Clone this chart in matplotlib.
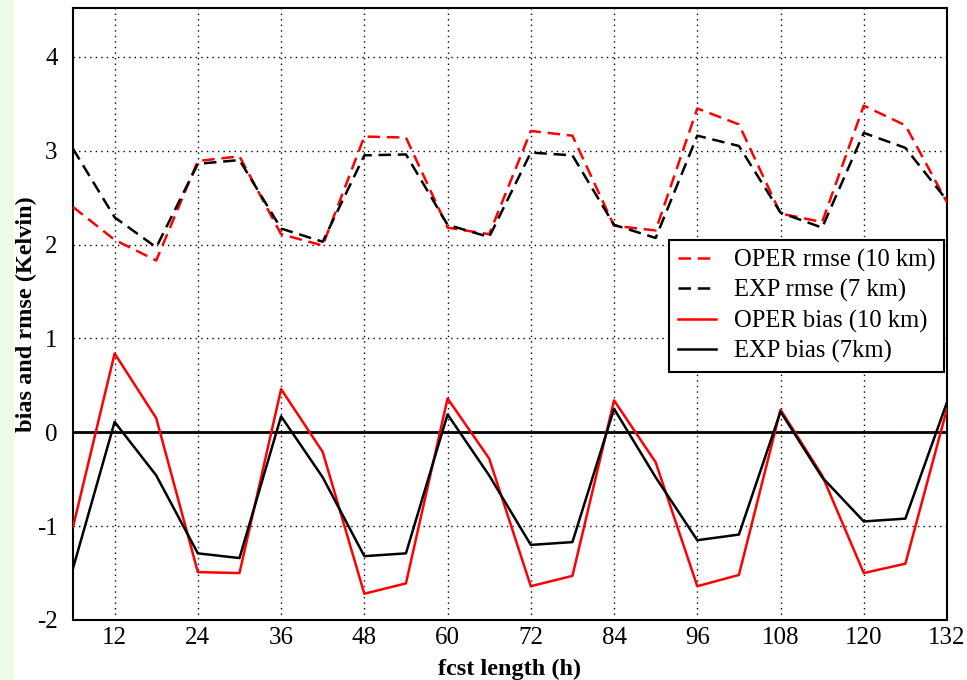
import matplotlib
matplotlib.use("Agg")
import matplotlib.pyplot as plt
from matplotlib.patches import Rectangle

hours = [6, 12, 18, 24, 30, 36, 42, 48, 54, 60, 66, 72, 78, 84, 90, 96, 102, 108, 114, 120, 126, 132]
oper_rmse = [2.40, 2.05, 1.83, 2.89, 2.94, 2.11, 1.99, 3.15, 3.14, 2.18, 2.11, 3.21, 3.16, 2.20, 2.15,
             3.45, 3.28, 2.33, 2.24, 3.48, 3.27, 2.45]
exp_rmse = [3.02, 2.29, 1.97, 2.86, 2.90, 2.17, 2.03, 2.95, 2.96, 2.21, 2.08, 2.98, 2.95, 2.21, 2.07,
            3.16, 3.05, 2.34, 2.18, 3.19, 3.03, 2.47]
oper_bias = [-1.01, 0.84, 0.15, -1.49, -1.50, 0.46, -0.21, -1.72, -1.61, 0.36, -0.28, -1.64, -1.53, 0.34,
             -0.32, -1.64, -1.52, 0.24, -0.46, -1.50, -1.40, 0.25]
exp_bias = [-1.45, 0.11, -0.46, -1.29, -1.34, 0.17, -0.48, -1.32, -1.29, 0.19, -0.46, -1.20, -1.17, 0.25,
            -0.48, -1.15, -1.09, 0.22, -0.48, -0.95, -0.92, 0.32]
xticks = [12, 24, 36, 48, 60, 72, 84, 96, 108, 120, 132]
yticks = [-2, -1, 0, 1, 2, 3, 4]
labels = ["OPER rmse (10 km)", "EXP rmse (7 km)", "OPER bias (10 km)", "EXP bias (7km)"]

plt.rcParams['font.family'] = ['Liberation Serif', 'DejaVu Serif']
plt.rcParams['axes.unicode_minus'] = False

fig = plt.figure(figsize=(9.67, 6.8), dpi=100)
fig.patches.append(Rectangle((0, 0), 14 / 967, 1, transform=fig.transFigure,
                             facecolor='#eefbe6', edgecolor='none', zorder=0))
ax = fig.add_axes([73 / 967, 60 / 680, 874 / 967, 612 / 680])

lw = 1.8
dash = (5, 2.7)
ax.plot(hours, oper_rmse, color='#ff0000', lw=lw, dashes=dash, label=labels[0], zorder=3)
ax.plot(hours, exp_rmse, color='black', lw=lw, dashes=dash, label=labels[1], zorder=3)
ax.plot(hours, oper_bias, color='#ff0000', lw=lw, label=labels[2], zorder=3)
ax.plot(hours, exp_bias, color='black', lw=lw, label=labels[3], zorder=3)
ax.axhline(0, color='black', lw=2.0, zorder=2)

ax.set_xlim(6, 132)
ax.set_ylim(-2, 4.52)
ax.set_xticks(xticks)
ax.set_yticks(yticks)
ax.grid(True, color='black', linestyle=(0, (1, 3)), linewidth=1.0)
ax.tick_params(axis='both', direction='in', length=0, labelsize=18)
ax.tick_params(axis='y', pad=11)
ax.tick_params(axis='x', pad=5)
for s in ax.spines.values():
    s.set_linewidth(1.5)
    s.set_color('black')

ax.set_xlabel('fcst length (h)', fontsize=17.5, fontweight='bold', labelpad=7)
ax.set_ylabel('bias and rmse (Kelvin)', fontsize=17.5, fontweight='bold', labelpad=0)

leg = ax.legend(loc='upper left', bbox_to_anchor=(0.682, 0.621), fontsize=17.7,
                frameon=True, fancybox=False, handlelength=1.55, borderaxespad=0,
                labelspacing=0.3, handletextpad=0.75, borderpad=0.35)
leg.get_frame().set_edgecolor('black')
leg.get_frame().set_linewidth(1.5)
leg.get_frame().set_alpha(1)

fig.savefig('out.png', dpi=100)
